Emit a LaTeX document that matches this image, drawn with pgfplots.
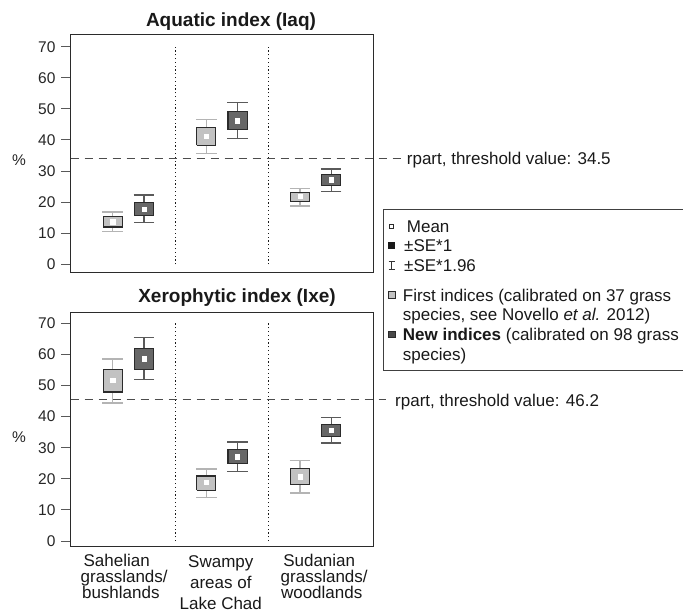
\documentclass[border=0pt]{standalone}
\usepackage{fontspec}
\setmainfont{Liberation Sans}
\usepackage{pgfplots}
\pgfplotsset{compat=1.18}
\definecolor{lightfill}{HTML}{C2C2C2}
\definecolor{darkfill}{HTML}{676767}
\definecolor{lightwhisk}{HTML}{B4B4B4}
\definecolor{darkwhisk}{HTML}{5A5A5A}
\definecolor{frame}{HTML}{2B2B2B}
\newcommand{\tf}{\fontsize{17bp}{20bp}\selectfont}
\pgfplotsset{
  panel/.style={
    scale only axis, width=302.5bp,
    xmin=0.3846, xmax=3.616,
    xtick=\empty, ytick={0,10,...,70}, ytick pos=left, tick align=outside,
    major tick length=9.7bp,
    axis line style={draw=frame, line width=1bp},
    every tick/.style={draw=black!65, line width=1bp},
    yticklabel style={font=\fontsize{15.5bp}{18bp}\selectfont, text=black!85, xshift=-2bp},
    /pgf/number format/assume math mode=true,
    clip=false,
  },
  whisk/.style={draw=none, mark=none, forget plot,
    error bars/.cd, y dir=both, y explicit, error mark=|,
    error bar style={#1, line width=1.3bp},
    error mark options={#1, line width=1.3bp, mark size=10.3bp}},
  box/.style={draw=frame, line width=1.1bp, fill=#1, line join=miter, forget plot},
  meanmk/.style={only marks, mark=square*, mark size=2.1bp, mark options={draw=white, fill=white}, forget plot},
  divider/.style={black!90, line width=1.1bp, dash pattern=on 1.2bp off 2.6bp, forget plot},
  thresh/.style={black!70, line width=1.1bp, dash pattern=on 8bp off 6bp, forget plot},
}
\begin{document}
\begin{tikzpicture}
\useasboundingbox (0,0) rectangle (683bp,-613bp);

% ---------- top panel: Aquatic index ----------
\begin{axis}[panel, at={(70.7bp,-272.7bp)}, anchor=south west,
  height=238.4bp, ymin=-2.7, ymax=74]
\addplot[divider] coordinates {(1.5,0) (1.5,70)};
\addplot[divider] coordinates {(2.5,0) (2.5,70)};
\addplot[thresh] coordinates {(0.3846,34) (3.921,34)};
% whiskers (mean, +1.96SE, -1.96SE)
\addplot[whisk=lightwhisk] coordinates {
  (0.833,13.7) += (0,3.1) -= (0,3.2)
  (1.833,41.2) += (0,5.5) -= (0,5.6)
  (2.833,21.8) += (0,2.7) -= (0,3.0)};
\addplot[whisk=darkwhisk] coordinates {
  (1.167,17.8) += (0,4.5) -= (0,4.3)
  (2.167,46.2) += (0,5.8) -= (0,5.7)
  (3.167,27.2) += (0,3.5) -= (0,3.8)};
% boxes (mean +- SE): First indices
\addplot[box=lightfill] coordinates {(0.7305,12.0) (0.9355,12.0) (0.9355,15.3) (0.7305,15.3) (0.7305,12.0)};
\addplot[box=lightfill] coordinates {(1.7305,38.3) (1.9355,38.3) (1.9355,43.9) (1.7305,43.9) (1.7305,38.3)};
\addplot[box=lightfill] coordinates {(2.7305,20.1) (2.9355,20.1) (2.9355,23.2) (2.7305,23.2) (2.7305,20.1)};
% New indices
\addplot[box=darkfill] coordinates {(1.0645,15.6) (1.2695,15.6) (1.2695,20.0) (1.0645,20.0) (1.0645,15.6)};
\addplot[box=darkfill] coordinates {(2.0645,43.3) (2.2695,43.3) (2.2695,49.1) (2.0645,49.1) (2.0645,43.3)};
\addplot[box=darkfill] coordinates {(3.0645,25.3) (3.2695,25.3) (3.2695,28.9) (3.0645,28.9) (3.0645,25.3)};
% means
\addplot[meanmk] coordinates {(0.833,13.7) (1.833,41.2) (2.833,21.8) (1.167,17.8) (2.167,46.2) (3.167,27.2)};
\end{axis}

% ---------- bottom panel: Xerophytic index ----------
\begin{axis}[panel, at={(70.7bp,-546.7bp)}, anchor=south west,
  height=234.4bp, ymin=-1.8, ymax=73.5]
\addplot[divider] coordinates {(1.5,0) (1.5,70)};
\addplot[divider] coordinates {(2.5,0) (2.5,70)};
\addplot[thresh] coordinates {(0.3846,45.6) (3.753,45.6)};
\addplot[whisk=lightwhisk] coordinates {
  (0.833,51.6) += (0,6.9) -= (0,7.2)
  (1.833,18.8) += (0,4.4) -= (0,4.7)
  (2.833,20.7) += (0,5.1) -= (0,5.2)};
\addplot[whisk=darkwhisk] coordinates {
  (1.167,58.6) += (0,6.7) -= (0,6.6)
  (2.167,27.1) += (0,4.7) -= (0,4.8)
  (3.167,35.5) += (0,4.2) -= (0,4.0)};
\addplot[box=lightfill] coordinates {(0.7305,47.9) (0.9355,47.9) (0.9355,55.2) (0.7305,55.2) (0.7305,47.9)};
\addplot[box=lightfill] coordinates {(1.7305,16.4) (1.9355,16.4) (1.9355,20.9) (1.7305,20.9) (1.7305,16.4)};
\addplot[box=lightfill] coordinates {(2.7305,18.1) (2.9355,18.1) (2.9355,23.4) (2.7305,23.4) (2.7305,18.1)};
\addplot[box=darkfill] coordinates {(1.0645,55.2) (1.2695,55.2) (1.2695,62.0) (1.0645,62.0) (1.0645,55.2)};
\addplot[box=darkfill] coordinates {(2.0645,24.9) (2.2695,24.9) (2.2695,29.5) (2.0645,29.5) (2.0645,24.9)};
\addplot[box=darkfill] coordinates {(3.0645,33.5) (3.2695,33.5) (3.2695,37.6) (3.0645,37.6) (3.0645,33.5)};
\addplot[meanmk] coordinates {(0.833,51.6) (1.833,18.8) (2.833,20.7) (1.167,58.6) (2.167,27.1) (3.167,35.5)};
\end{axis}

% ---------- titles and labels ----------
\node[anchor=base, font=\fontsize{19bp}{22bp}\selectfont\bfseries, text=black!90] at (231bp,-26.7bp) {Aquatic index (Iaq)};
\node[anchor=base, font=\fontsize{19bp}{22bp}\selectfont\bfseries, text=black!90] at (237bp,-302.7bp) {Xerophytic index (Ixe)};
\node[anchor=center, font=\fontsize{15.5bp}{18bp}\selectfont, text=black!85] at (19bp,-159.8bp) {\%};
\node[anchor=center, font=\fontsize{15.5bp}{18bp}\selectfont, text=black!85] at (19bp,-436.7bp) {\%};

\begin{scope}[every node/.style={anchor=base, font=\tf, text=black!90, inner sep=0pt}]
\node at (116.7bp,-566.7bp) {Sahelian};
\node at (124.2bp,-582.7bp) {grasslands/};
\node at (120.8bp,-598.3bp) {bushlands};
\node at (220.8bp,-567.3bp) {Swampy};
\node at (220.8bp,-588.3bp) {areas of};
\node at (220.8bp,-609bp) {Lake Chad};
\node at (319.2bp,-566.7bp) {Sudanian};
\node at (324.2bp,-582.7bp) {grasslands/};
\node at (321.7bp,-598.3bp) {woodlands};
\end{scope}

% ---------- threshold labels ----------
\begin{scope}[every node/.style={anchor=base west, font=\tf, text=black!90, inner sep=0pt}]
\node at (406.7bp,-164.3bp) {rpart, threshold value: 34.5};
\node at (395bp,-406bp) {rpart, threshold value: 46.2};
\end{scope}

% ---------- legend ----------
\draw[black!75, line width=1bp, fill=white] (383.3bp,-209.3bp) rectangle (700bp,-370.7bp);
\draw[frame, line width=0.9bp, fill=white] (389bp,-224bp) rectangle (393bp,-228bp);
\fill[black!90] (388.2bp,-241.8bp) rectangle (395.2bp,-248.8bp);
\draw[black!80, line width=0.9bp] (388.5bp,-261bp) -- (395bp,-261bp)
  (391.7bp,-261bp) -- (391.7bp,-269bp) (388.5bp,-269bp) -- (395bp,-269bp);
\draw[frame, line width=0.9bp, fill=lightfill] (388.5bp,-291.8bp) rectangle (395bp,-298.3bp);
\draw[frame, line width=0.9bp, fill=darkfill!120] (388.5bp,-331bp) rectangle (395bp,-337.5bp);
\begin{scope}[every node/.style={anchor=base west, font=\tf, text=black!90, inner sep=0pt}]
\node at (406.7bp,-232.5bp) {Mean};
\node at (404bp,-251.6bp) {±SE*1};
\node at (404bp,-271bp) {±SE*1.96};
\node at (402.7bp,-301bp) {First indices (calibrated on 37 grass};
\node at (402.7bp,-320.5bp) {species, see Novello \textit{et al.} 2012)};
\node at (402.7bp,-340.2bp) {\textbf{New indices} (calibrated on 98 grass};
\node at (402.7bp,-360bp) {species)};
\end{scope}
\end{tikzpicture}
\end{document}
